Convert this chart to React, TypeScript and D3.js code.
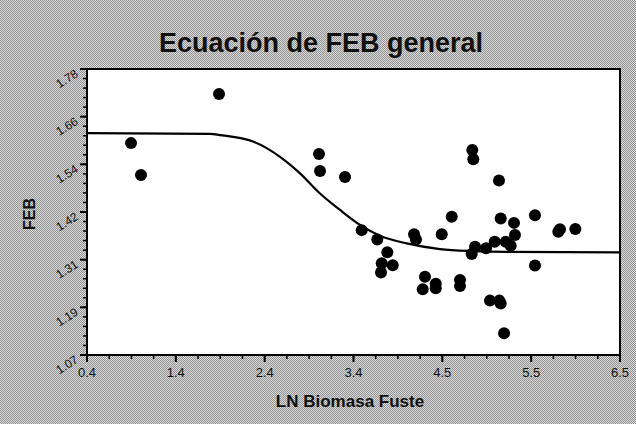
import React, { useEffect, useRef } from "react";
import * as d3 from "d3";

// observed points (LN biomasa fuste, FEB)
const lnBiomasa = [
  0.904, 1.018, 1.911, 3.055, 3.067, 3.353, 4.810, 4.821, 5.115, 4.574,
  4.460, 4.143, 4.165, 3.544, 3.722, 3.837, 3.773, 3.899, 3.765, 4.268,
  4.391, 4.391, 4.242, 4.669, 4.669, 4.841, 4.803, 4.967, 5.066, 5.135,
  5.287, 5.298, 5.192, 5.249, 5.527, 5.527, 5.794, 5.813, 5.989, 5.012,
  5.119, 5.135, 5.173,
];
const feb = [
  1.596, 1.517, 1.718, 1.569, 1.527, 1.512, 1.579, 1.556, 1.503, 1.413,
  1.370, 1.370, 1.357, 1.380, 1.357, 1.325, 1.298, 1.293, 1.275, 1.264,
  1.247, 1.236, 1.233, 1.256, 1.241, 1.339, 1.321, 1.335, 1.351, 1.409,
  1.398, 1.368, 1.351, 1.341, 1.417, 1.292, 1.376, 1.382, 1.383, 1.205,
  1.205, 1.198, 1.124,
];

// fitted curve
const curveX = [0.4, 1.808, 1.922, 2.3, 2.609, 2.838, 3.067, 3.296, 3.524, 3.753, 4.059, 4.44, 4.821, 5.203, 6.5];
const curveY = [1.621, 1.619, 1.616, 1.6, 1.562, 1.521, 1.471, 1.43, 1.393, 1.366, 1.347, 1.333, 1.328, 1.326, 1.325];

const xTickLabels = ["0.4", "1.4", "2.4", "3.4", "4.5", "5.5", "6.5"];
const yTickLabels = ["1.07", "1.19", "1.31", "1.42", "1.54", "1.66", "1.78"];

const App = () => {
  const svgRef = useRef<SVGSVGElement>(null);

  useEffect(() => {
    const svg = d3.select(svgRef.current);
    svg.selectAll("*").remove();

    const width = 636;
    const height = 424;
    const plot = { left: 87, right: 620, top: 69, bottom: 355 };
    const font = "Liberation Sans, Arial, sans-serif";

    // dithered grey background
    const defs = svg.append("defs");
    const pat = defs
      .append("pattern")
      .attr("id", "dither")
      .attr("width", 2)
      .attr("height", 2)
      .attr("patternUnits", "userSpaceOnUse");
    pat.append("rect").attr("width", 2).attr("height", 2).attr("fill", "#dadada");
    pat.append("rect").attr("width", 1).attr("height", 1).attr("fill", "#929292");
    pat.append("rect").attr("x", 1).attr("y", 1).attr("width", 1).attr("height", 1).attr("fill", "#929292");

    svg
      .append("rect")
      .attr("width", width)
      .attr("height", height)
      .attr("fill", "url(#dither)")
      .attr("shape-rendering", "crispEdges");

    const xMin = 0.4, xMax = 6.5;
    const yMin = 1.07, yMax = 1.78;

    const x = d3.scaleLinear().domain([xMin, xMax]).range([plot.left, plot.right]);
    const y = d3.scaleLinear().domain([yMin, yMax]).range([plot.bottom, plot.top]);

    // plot area
    svg
      .append("rect")
      .attr("x", plot.left)
      .attr("y", plot.top)
      .attr("width", plot.right - plot.left)
      .attr("height", plot.bottom - plot.top)
      .attr("fill", "#fff")
      .attr("stroke", "#000")
      .attr("stroke-width", 2);

    const xMajor = d3.range(7).map((i) => xMin + (i * (xMax - xMin)) / 6);
    const xMinor = d3.range(25).map((i) => xMin + (i * (xMax - xMin)) / 24);
    const yMajor = d3.range(7).map((i) => yMin + (i * (yMax - yMin)) / 6);
    const yMinor = d3.range(31).map((i) => yMin + (i * (yMax - yMin)) / 30);

    // x ticks
    svg
      .selectAll(".xminor")
      .data(xMinor)
      .join("line")
      .attr("x1", (d) => x(d))
      .attr("x2", (d) => x(d))
      .attr("y1", plot.bottom)
      .attr("y2", plot.bottom + 4)
      .attr("stroke", "#000")
      .attr("stroke-width", 1.5);
    svg
      .selectAll(".xmajor")
      .data(xMajor)
      .join("line")
      .attr("x1", (d) => x(d))
      .attr("x2", (d) => x(d))
      .attr("y1", plot.bottom)
      .attr("y2", plot.bottom + 7)
      .attr("stroke", "#000")
      .attr("stroke-width", 2);
    svg
      .selectAll(".xlabel")
      .data(xMajor)
      .join("text")
      .attr("x", (d) => x(d))
      .attr("y", plot.bottom + 22)
      .attr("text-anchor", "middle")
      .attr("font-family", font)
      .attr("font-size", 13)
      .attr("fill", "#111")
      .text((d, i) => xTickLabels[i]);

    // y ticks
    svg
      .selectAll(".yminor")
      .data(yMinor)
      .join("line")
      .attr("x1", plot.left)
      .attr("x2", plot.left - 4)
      .attr("y1", (d) => y(d))
      .attr("y2", (d) => y(d))
      .attr("stroke", "#000")
      .attr("stroke-width", 1.5);
    svg
      .selectAll(".ymajor")
      .data(yMajor)
      .join("line")
      .attr("x1", plot.left)
      .attr("x2", plot.left - 7)
      .attr("y1", (d) => y(d))
      .attr("y2", (d) => y(d))
      .attr("stroke", "#000")
      .attr("stroke-width", 2);
    svg
      .selectAll(".ylabel")
      .data(yMajor)
      .join("text")
      .attr("transform", (d) => `translate(${plot.left - 8},${y(d) + 7}) rotate(-32)`)
      .attr("text-anchor", "end")
      .attr("font-family", font)
      .attr("font-size", 12)
      .attr("fill", "#111")
      .text((d, i) => yTickLabels[i]);

    // fitted curve
    const line = d3
      .line<number>()
      .x((d, i) => x(curveX[i]))
      .y((d) => y(d))
      .curve(d3.curveMonotoneX);
    svg
      .append("path")
      .datum(curveY)
      .attr("d", line)
      .attr("fill", "none")
      .attr("stroke", "#000")
      .attr("stroke-width", 2.2);

    // points
    svg
      .selectAll(".dot")
      .data(lnBiomasa)
      .join("circle")
      .attr("cx", (d) => x(d))
      .attr("cy", (d, i) => y(feb[i]))
      .attr("r", 6)
      .attr("fill", "#000");

    // title and axis names
    svg
      .append("text")
      .attr("x", 321)
      .attr("y", 52)
      .attr("text-anchor", "middle")
      .attr("font-family", font)
      .attr("font-weight", "bold")
      .attr("font-size", 27)
      .attr("fill", "#111")
      .text("Ecuación de FEB general");

    svg
      .append("text")
      .attr("x", 350)
      .attr("y", 407)
      .attr("text-anchor", "middle")
      .attr("font-family", font)
      .attr("font-weight", "bold")
      .attr("font-size", 17)
      .attr("fill", "#111")
      .text("LN Biomasa Fuste");

    svg
      .append("text")
      .attr("transform", "translate(35,214) rotate(-90)")
      .attr("text-anchor", "middle")
      .attr("font-family", font)
      .attr("font-weight", "bold")
      .attr("font-size", 16)
      .attr("fill", "#111")
      .text("FEB");
  }, []);

  return (
    <svg
      ref={svgRef}
      width={636}
      height={424}
      style={{ position: "absolute", left: 0, top: 0 }}
    ></svg>
  );
};

export default App;
